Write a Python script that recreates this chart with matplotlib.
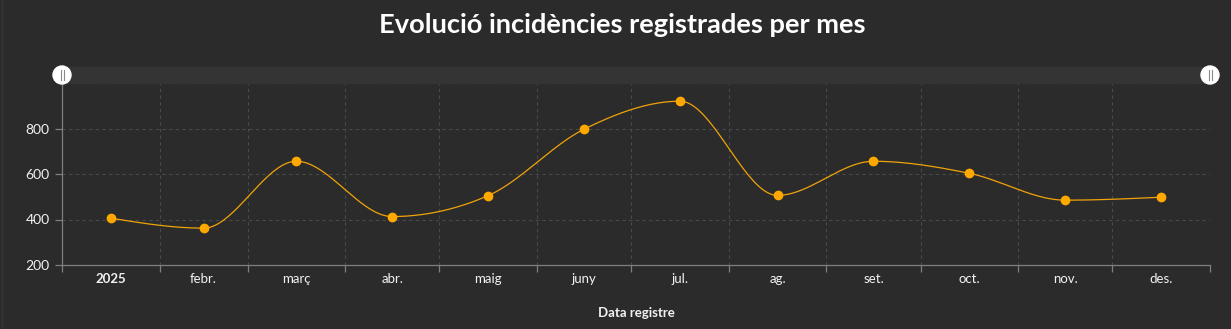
import datetime as dt
import numpy as np
import matplotlib
matplotlib.use("Agg")
import matplotlib.pyplot as plt
import matplotlib.dates as mdates
from matplotlib.patches import Circle, Rectangle

# ---- data -------------------------------------------------------------
year = 2025
month_labels = ["2025", "febr.", "març", "abr.", "maig", "juny",
                "jul.", "ag.", "set.", "oct.", "nov.", "des."]
incidencies = [406, 362, 656, 413, 505, 797, 920, 506, 656, 603, 485, 498]
y_ticks = [200, 400, 600, 800]

title = "Evolució incidències registrades per mes"
x_title = "Data registre"

# ---- styling ----------------------------------------------------------
BG = "#2b2b2b"
BAND = "#343434"
GRID = "#4a4a4a"
AXIS = "#808080"
TEXT = "#f2f2f2"
LINE = "#f0a30a"
POINT = "#ffa800"
FONT = "Lato"

W, H, DPI = 1231, 329, 100
fig = plt.figure(figsize=(W / DPI, H / DPI), dpi=DPI, facecolor=BG)

left, right, top, bottom = 62, 1210, 83, 265
ax = fig.add_axes([left / W, 1 - bottom / H, (right - left) / W, (bottom - top) / H])
ax.set_facecolor(BG)

# month boundaries and midpoints
starts = [dt.datetime(year, m, 1) for m in range(1, 13)] + [dt.datetime(year + 1, 1, 1)]
s_num = mdates.date2num(starts)
mids = (s_num[:-1] + s_num[1:]) / 2.0
vals = np.asarray(incidencies, dtype=float)


def monotone_x(x, y, n=40):
    """Monotone cubic interpolation (same as d3.curveMonotoneX)."""
    x = np.asarray(x, float)
    y = np.asarray(y, float)
    k = len(x)
    h = np.diff(x)
    s = np.diff(y) / h
    t = np.zeros(k)
    for i in range(1, k - 1):
        h0, h1 = h[i - 1], h[i]
        s0, s1 = s[i - 1], s[i]
        p = (s0 * h1 + s1 * h0) / (h0 + h1)
        t[i] = (np.sign(s0) + np.sign(s1)) * min(abs(s0), abs(s1), 0.5 * abs(p))
    t[0] = (3 * s[0] - t[1]) / 2
    t[-1] = (3 * s[-1] - t[-2]) / 2
    xs, ys = [], []
    for i in range(k - 1):
        u = np.linspace(0, 1, n, endpoint=(i == k - 2))
        h00 = 2 * u**3 - 3 * u**2 + 1
        h10 = u**3 - 2 * u**2 + u
        h01 = -2 * u**3 + 3 * u**2
        h11 = u**3 - u**2
        xs.append(x[i] + u * h[i])
        ys.append(h00 * y[i] + h10 * h[i] * t[i] + h01 * y[i + 1] + h11 * h[i] * t[i + 1])
    return np.concatenate(xs), np.concatenate(ys)


cx, cy = monotone_x(mids, vals)
ax.plot(cx, cy, color=LINE, lw=0.9, zorder=3, solid_capstyle="round")
ax.plot(mids, vals, "o", ms=6.0, color=POINT, mec=POINT, zorder=4)

ax.set_xlim(s_num[0], s_num[-1])
ax.set_ylim(200, 1000)

# grid
for yv in [400, 600, 800, 1000]:
    ax.axhline(yv, color=GRID, lw=0.8, ls=(0, (3, 3)), zorder=1)
for xv in s_num[1:]:
    ax.axvline(xv, color=GRID, lw=0.8, ls=(0, (3, 3)), zorder=1)

# axes lines / ticks
for sp in ["top", "right"]:
    ax.spines[sp].set_visible(False)
for sp in ["left", "bottom"]:
    ax.spines[sp].set_color(AXIS)
    ax.spines[sp].set_linewidth(0.9)

ax.set_yticks(y_ticks)
ax.set_yticklabels([str(v) for v in y_ticks])
ax.set_xticks(s_num)
ax.set_xticklabels([])
ax.tick_params(axis="y", length=5, width=0.9, color=AXIS, labelcolor=TEXT,
               labelsize=10, pad=4)
ax.tick_params(axis="x", length=5, width=0.9, color=AXIS)
for lab in ax.get_yticklabels():
    lab.set_fontfamily(FONT)

# month labels centred under each month
for i, (m, lab) in enumerate(zip(mids, month_labels)):
    ax.text(m, -0.075, lab, transform=ax.get_xaxis_transform(), ha="center",
            va="center", color=TEXT, fontsize=9.5, family=FONT,
            fontweight="bold" if i == 0 else "normal")

# overlay in pixel coordinates for title, axis title and scrollbar
ov = fig.add_axes([0, 0, 1, 1], facecolor="none")
ov.set_xlim(0, W)
ov.set_ylim(H, 0)
ov.axis("off")

ov.add_patch(Rectangle((left, 67), right - left, 16, color=BAND, zorder=0))
ov.plot([2, 2], [0, H], color="#363636", lw=1)
for gx in (left, right):
    ov.add_patch(Circle((gx, 75), 9, color="white", zorder=5))
    for dx in (-1.5, 1.5):
        ov.plot([gx + dx, gx + dx], [70, 80], color="#8a8a8a", lw=0.8, zorder=6)

ov.text(622, 33, title, ha="center", va="baseline", color="white",
        fontsize=19.6, fontweight="bold", family=FONT)
ov.text(636, 313, x_title, ha="center", va="center", color=TEXT,
        fontsize=9.5, fontweight="bold", family=FONT)

fig.savefig("out.png", dpi=DPI, facecolor=BG)
